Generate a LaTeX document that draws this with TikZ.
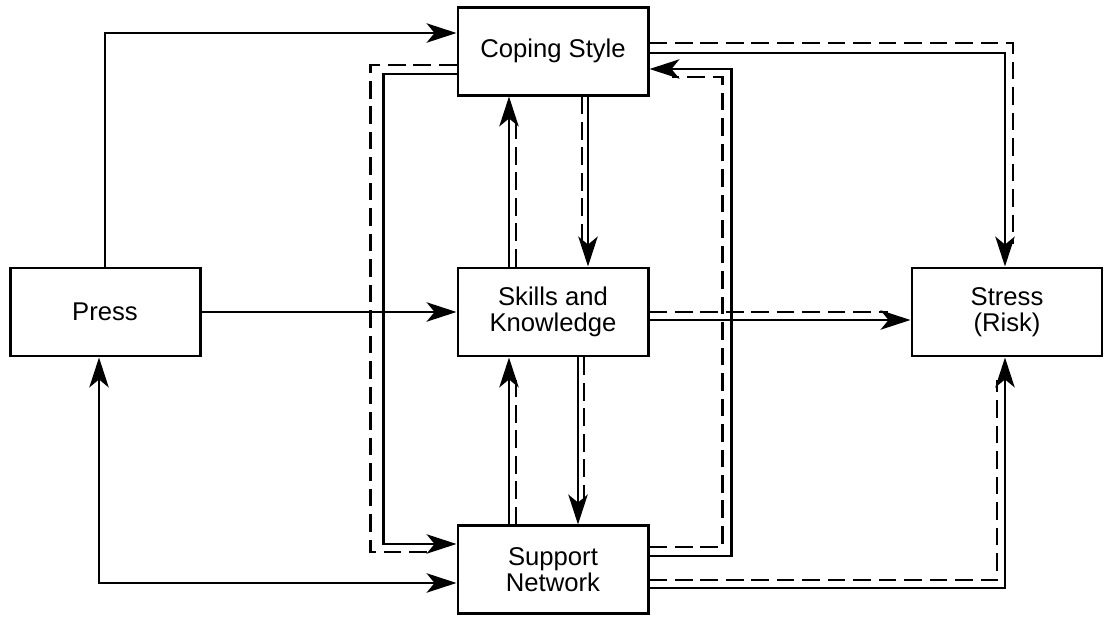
\documentclass[tikz,border=0pt]{standalone}
\usepackage{fontspec}
\setmainfont{Liberation Sans}
\usetikzlibrary{arrows.meta, positioning}

\begin{document}
\begin{tikzpicture}[
  node distance=3.4cm and 5.2cm,
  >={Stealth[length=17pt, width=11pt, inset=4.5pt]},
  every node/.style={font=\fontsize{14.6}{14.8}\selectfont},
  box/.style={rectangle, draw, line width=1.7pt, minimum width=3.8cm, minimum height=1.76cm, align=center},
  arrow/.style={->, line width=1.5pt},
  twin/.style={line width=1.5pt, dash pattern=on 10pt off 4.5pt, shorten >=13pt},
]
  \useasboundingbox (0,0) rectangle (22.08,-12.48);

  \node[box] (skills) at (11.06,-6.24) {Skills and\\Knowledge};
  \node[box, above=of skills] (coping) {Coping Style};
  \node[box, below=3.34cm of skills] (support) {Support\\Network};
  \node[box, left=5.1cm of skills] (press) {Press};
  \node[box, right=5.22cm of skills] (stress) {Stress\\(Risk)};

  % press
  \draw[arrow] (press.north) |- ([yshift=0.36cm]coping.west);
  \draw[arrow] (press) -- (skills);
  \draw[arrow, <->] ([xshift=-0.12cm]press.south) |- ([yshift=-0.26cm]support.west);

  % left loop
  \draw[arrow] ([yshift=-0.46cm]coping.west) -- ++(-1.46,0) |- ([yshift=0.52cm]support.west);
  \draw[twin] ([yshift=-0.28cm]coping.west) -- ++(-1.72,0) |- ([yshift=0.36cm]support.west);

  % right loop
  \draw[arrow] ([yshift=0.28cm]support.east) -- ++(1.64,0) |- ([yshift=-0.36cm]coping.east);
  \draw[twin] ([yshift=0.46cm]support.east) -- ++(1.46,0) |- ([yshift=-0.52cm]coping.east);

  % to stress
  \draw[arrow] ([yshift=-0.04cm]coping.east) -| ([xshift=-0.04cm]stress.north);
  \draw[twin] ([yshift=0.16cm]coping.east) -| ([xshift=0.12cm]stress.north);
  \draw[arrow] ([yshift=-0.16cm]skills.east) -- ([yshift=-0.16cm]skills.east -| stress.west);
  \draw[twin] (skills.east) -- (skills.east -| stress.west);
  \draw[arrow] ([yshift=-0.36cm]support.east) -| ([xshift=-0.04cm]stress.south);
  \draw[twin] ([yshift=-0.2cm]support.east) -| ([xshift=-0.2cm]stress.south);

  % centre column
  \draw[arrow] ([xshift=-0.88cm]skills.north) -- ([xshift=-0.88cm]skills.north |- coping.south);
  \draw[twin] ([xshift=-0.74cm]skills.north) -- ([xshift=-0.74cm]skills.north |- coping.south);
  \draw[arrow] ([xshift=0.70cm]coping.south) -- ([xshift=0.70cm]coping.south |- skills.north);
  \draw[twin] ([xshift=0.58cm]coping.south) -- ([xshift=0.58cm]coping.south |- skills.north);
  \draw[arrow] ([xshift=-0.88cm]support.north) -- ([xshift=-0.88cm]support.north |- skills.south);
  \draw[twin] ([xshift=-0.74cm]support.north) -- ([xshift=-0.74cm]support.north |- skills.south);
  \draw[arrow] ([xshift=0.5cm]skills.south) -- ([xshift=0.5cm]skills.south |- support.north);
  \draw[twin] ([xshift=0.62cm]skills.south) -- ([xshift=0.62cm]skills.south |- support.north);
\end{tikzpicture}
\end{document}
